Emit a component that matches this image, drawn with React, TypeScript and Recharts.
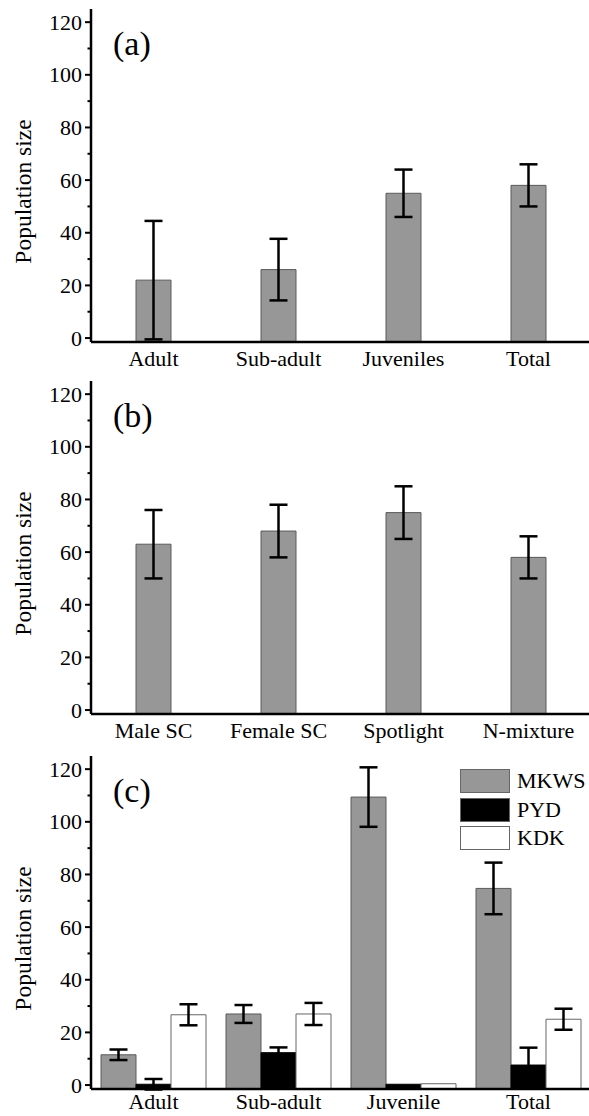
import { BarChart, Bar, XAxis, YAxis, ErrorBar, Legend } from 'recharts';

/* ================= DATA ================= */
const AXIS_MIN = -1.5;
const AXIS_MAX = 125;
const Y_TICKS = [0, 10, 20, 30, 40, 50, 60, 70, 80, 90, 100, 110, 120];

// (a) age classes
const ageClasses = ['Adult', 'Sub-adult', 'Juveniles', 'Total'];
const ageMean = [22, 26, 55, 58];
const ageErr = [22.5, 11.7, 9, 8];

// (b) estimation methods
const methods = ['Male SC', 'Female SC', 'Spotlight', 'N-mixture'];
const methodMean = [63, 68, 75, 58];
const methodErr = [13, 10, 10, 8];

// (c) sites
const siteClasses = ['Adult', 'Sub-adult', 'Juvenile', 'Total'];
const siteNames = ['MKWS', 'PYD', 'KDK'];
const siteFills = ['#979797', '#000000', '#ffffff'];
const mkws = [11.5, 27, 109.4, 74.7];
const mkwsErr = [2, 3.4, 11.3, 9.8];
const pyd = [0.3, 12.3, 0.3, 7.6];
const pydErr = [2, 2, null, 6.6];
const kdk = [26.7, 27, 0.5, 25];
const kdkErr = [4, 4.2, null, 4];

/* ================= STYLE ================= */
const FONT = 'Liberation Serif';
const GRAY = '#979797';
const EDGE = '#5a5a5a';

const singleData = (names: string[], mean: number[], err: number[]) =>
  names.map((name, i) => ({ name, value: [AXIS_MIN, mean[i]], err: err[i] }));

const dataA = singleData(ageClasses, ageMean, ageErr);
const dataB = singleData(methods, methodMean, methodErr);
const dataC = siteClasses.map((name, i) => ({
  name,
  mkws: [AXIS_MIN, mkws[i]],
  mkwsErr: mkwsErr[i],
  pyd: [AXIS_MIN, pyd[i]],
  pydErr: pydErr[i],
  kdk: [AXIS_MIN, kdk[i]],
  kdkErr: kdkErr[i],
}));

/* ================= PIECES ================= */
const YTick = (props: any) => {
  const { x, y, payload } = props;
  const major = payload.value % 20 === 0;
  return (
    <g>
      <line x1={x} x2={x - (major ? 6 : 3.5)} y1={y} y2={y} stroke="#000" strokeWidth={2} />
      {major && (
        <text x={x - 9} y={y} dy="0.34em" textAnchor="end" fontSize={22} fontFamily={FONT} fill="#000">
          {payload.value}
        </text>
      )}
    </g>
  );
};

const YLabel = (props: any) => {
  const { viewBox } = props;
  const cx = 23;
  const cy = viewBox.y + viewBox.height / 2 + 16;
  return (
    <text
      x={cx}
      y={cy}
      dy="0.34em"
      transform={`rotate(-90 ${cx} ${cy})`}
      textAnchor="middle"
      fontSize={23.5}
      fontFamily={FONT}
      fill="#000"
    >
      Population size
    </text>
  );
};

// legend drawn from the site arrays so the order stays MKWS, PYD, KDK
const LegendBox = () => (
  <div style={{ fontFamily: FONT, fontSize: 22, color: '#000' }}>
    {siteNames.map((n, i) => (
      <div key={n} style={{ display: 'flex', alignItems: 'center', height: 28.4 }}>
        <div style={{ width: 48, height: 22, background: siteFills[i], border: '1px solid #666' }} />
        <span style={{ marginLeft: 7, lineHeight: 1 }}>{n}</span>
      </div>
    ))}
  </div>
);

const axisLine = { stroke: '#000', strokeWidth: 2.5 };

function Panel({
  top,
  tag,
  data,
  labelGap = 8,
  children,
}: {
  top: number;
  tag: string;
  data: any[];
  labelGap?: number;
  children: any;
}) {
  return (
    <div style={{ position: 'absolute', left: 0, top }}>
      <BarChart
        width={600}
        height={380}
        data={data}
        margin={{ top: 9, right: 9, left: 0, bottom: 0 }}
        barGap={0}
        style={{ fontFamily: FONT }}
      >
        <XAxis
          dataKey="name"
          height={38}
          tickLine={false}
          tickSize={0}
          tickMargin={labelGap}
          interval={0}
          axisLine={axisLine}
          tick={{ fontSize: 22, fill: '#000', fontFamily: FONT }}
        />
        <XAxis
          xAxisId="top"
          dataKey="name"
          orientation="top"
          height={0}
          tick={false}
          tickLine={false}
          axisLine={axisLine}
        />
        <YAxis
          type="number"
          domain={[AXIS_MIN, AXIS_MAX]}
          ticks={Y_TICKS}
          interval={0}
          allowDataOverflow
          width={91}
          tickSize={0}
          tickMargin={0}
          tickLine={false}
          axisLine={axisLine}
          tick={<YTick />}
          label={<YLabel />}
        />
        {children}
        <text x={113} y={55} fontSize={34} fontFamily={FONT} fill="#000">
          {tag}
        </text>
      </BarChart>
    </div>
  );
}

export default function App() {
  return (
    <div
      style={{
        position: 'absolute',
        left: 0,
        top: 0,
        width: 589,
        height: 1116,
        overflow: 'hidden',
        background: '#fff',
      }}
    >
      <Panel top={0} tag="(a)" data={dataA}>
        <Bar dataKey="value" barSize={35} fill={GRAY} stroke={EDGE} strokeWidth={1} isAnimationActive={false}>
          <ErrorBar dataKey="err" width={9} stroke="#000" strokeWidth={2.5} direction="y" />
        </Bar>
      </Panel>
      <Panel top={372} tag="(b)" data={dataB}>
        <Bar dataKey="value" barSize={35} fill={GRAY} stroke={EDGE} strokeWidth={1} isAnimationActive={false}>
          <ErrorBar dataKey="err" width={9} stroke="#000" strokeWidth={2.5} direction="y" />
        </Bar>
      </Panel>
      <Panel top={747} tag="(c)" data={dataC} labelGap={4}>
        <Legend
          layout="vertical"
          align="center"
          verticalAlign="middle"
          wrapperStyle={{ left: 460, top: 20, width: 130 }}
          content={<LegendBox />}
        />
        <Bar name="MKWS" dataKey="mkws" barSize={35} fill={siteFills[0]} stroke={EDGE} strokeWidth={1} isAnimationActive={false}>
          <ErrorBar dataKey="mkwsErr" width={9} stroke="#000" strokeWidth={2.5} direction="y" />
        </Bar>
        <Bar name="PYD" dataKey="pyd" barSize={35} fill={siteFills[1]} stroke="#000" strokeWidth={1} isAnimationActive={false}>
          <ErrorBar dataKey="pydErr" width={9} stroke="#000" strokeWidth={2.5} direction="y" />
        </Bar>
        <Bar name="KDK" dataKey="kdk" barSize={35} fill={siteFills[2]} stroke="#666" strokeWidth={1} isAnimationActive={false}>
          <ErrorBar dataKey="kdkErr" width={9} stroke="#000" strokeWidth={2.5} direction="y" />
        </Bar>
      </Panel>
    </div>
  );
}
